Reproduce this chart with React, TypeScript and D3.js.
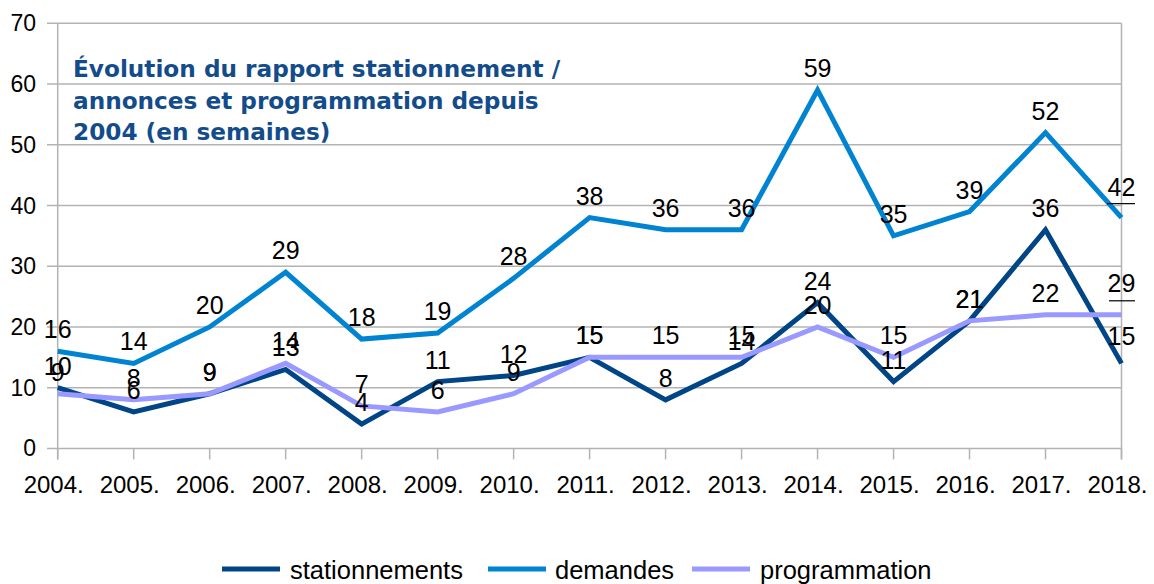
import React from "react";
import * as d3 from "d3";

const years = ["2004.", "2005.", "2006.", "2007.", "2008.", "2009.", "2010.", "2011.", "2012.", "2013.", "2014.", "2015.", "2016.", "2017.", "2018."];
const stationnements = [10, 6, 9, 13, 4, 11, 12, 15, 8, 14, 24, 11, 21, 36, 14];
const demandes = [16, 14, 20, 29, 18, 19, 28, 38, 36, 36, 59, 35, 39, 52, 38];
const programmation = [9, 8, 9, 14, 7, 6, 9, 15, 15, 15, 20, 15, 21, 22, 22];
const stationnementsLabels = [10, 6, 9, 13, 4, 11, 12, 15, 8, 14, 24, 11, 21, 36, 15];
const demandesLabels = [16, 14, 20, 29, 18, 19, 28, 38, 36, 36, 59, 35, 39, 52, 42];
const programmationLabels = [9, 8, 9, 14, 7, 6, 9, 15, 15, 15, 20, 15, 21, 22, 29];
const yTicks = [0, 10, 20, 30, 40, 50, 60, 70];
const titleLines = ["Évolution du rapport stationnement /", "annonces et programmation depuis", "2004 (en semaines)"];

const series = [
  { name: "stationnements", values: stationnements, labels: stationnementsLabels, color: "#004586" },
  { name: "demandes", values: demandes, labels: demandesLabels, color: "#0084d1" },
  { name: "programmation", values: programmation, labels: programmationLabels, color: "#9999ff" },
];

const W = 1154, H = 584;
const left = 57.7, right = 1121.5, top = 23.3, bottom = 448.4;

export default function App() {
  const x = d3.scalePoint<string>().domain(years).range([left, right]);
  const y = d3.scaleLinear().domain([0, 70]).range([bottom, top]);
  const line = d3.line<number>().x((_, i) => x(years[i])!).y((v) => y(v));
  const font = "'Liberation Sans', Arial, sans-serif";
  const last = years.length - 1;
  const lastOffsets = [18, 22, 23];
  const legendPos = [{ lx: 222, tx: 290 }, { lx: 488, tx: 555 }, { lx: 692, tx: 760 }];
  return (
    <svg width={W} height={H} style={{ position: "absolute", left: 0, top: 0, background: "#fff" }}>
      {yTicks.map((t) => (
        <g key={t}>
          <line x1={47} x2={right} y1={y(t)} y2={y(t)} stroke="#b3b3b3" strokeWidth={1.5} />
          <text x={36} y={y(t)} dy="0.35em" textAnchor="end" fontFamily={font} fontSize={23} fill="#000">{t}</text>
        </g>
      ))}
      <line x1={left} x2={left} y1={top} y2={bottom + 11} stroke="#b3b3b3" strokeWidth={1.5} />
      <line x1={right} x2={right} y1={top} y2={bottom + 11} stroke="#b3b3b3" strokeWidth={1.5} />
      {years.map((yr) => (
        <g key={yr}>
          <line x1={x(yr)} x2={x(yr)} y1={bottom} y2={bottom + 11} stroke="#b3b3b3" strokeWidth={1.5} />
          <text x={x(yr)! - 4} y={493} textAnchor="middle" fontFamily={font} fontSize={24} fill="#000">{yr}</text>
        </g>
      ))}
      {titleLines.map((l, i) => (
        <text key={i} x={73} y={77 + i * 31.5} fontFamily="'DejaVu Sans', sans-serif" fontWeight="bold" fontSize={23.2} fill="#134c8a">{l}</text>
      ))}
      {series.map((s) => (
        <path key={s.name} d={line(s.values)!} fill="none" stroke={s.color} strokeWidth={5} strokeLinejoin="miter" />
      ))}
      {series.map((s, si) => (
        <g key={s.name + "l"}>
          {s.labels.map((lab, i) => (
            <text key={i} x={x(years[i])} y={y(s.values[i]) - (i === last ? lastOffsets[si] : 13)} textAnchor="middle" fontFamily={font} fontSize={25} fill="#000">{lab}</text>
          ))}
        </g>
      ))}
      <line x1={1107} x2={1135} y1={y(demandes[last]) - 14} y2={y(demandes[last]) - 14} stroke="#000" strokeWidth={1.2} />
      <line x1={1109} x2={1135} y1={y(programmation[last]) - 14} y2={y(programmation[last]) - 14} stroke="#000" strokeWidth={1.2} />
      {series.map((s, i) => (
        <g key={s.name + "g"}>
          <line x1={legendPos[i].lx} x2={legendPos[i].lx + 58} y1={569} y2={569} stroke={s.color} strokeWidth={5} />
          <text x={legendPos[i].tx} y={578.5} fontFamily={font} fontSize={25.5} fill="#000">{s.name}</text>
        </g>
      ))}
    </svg>
  );
}
